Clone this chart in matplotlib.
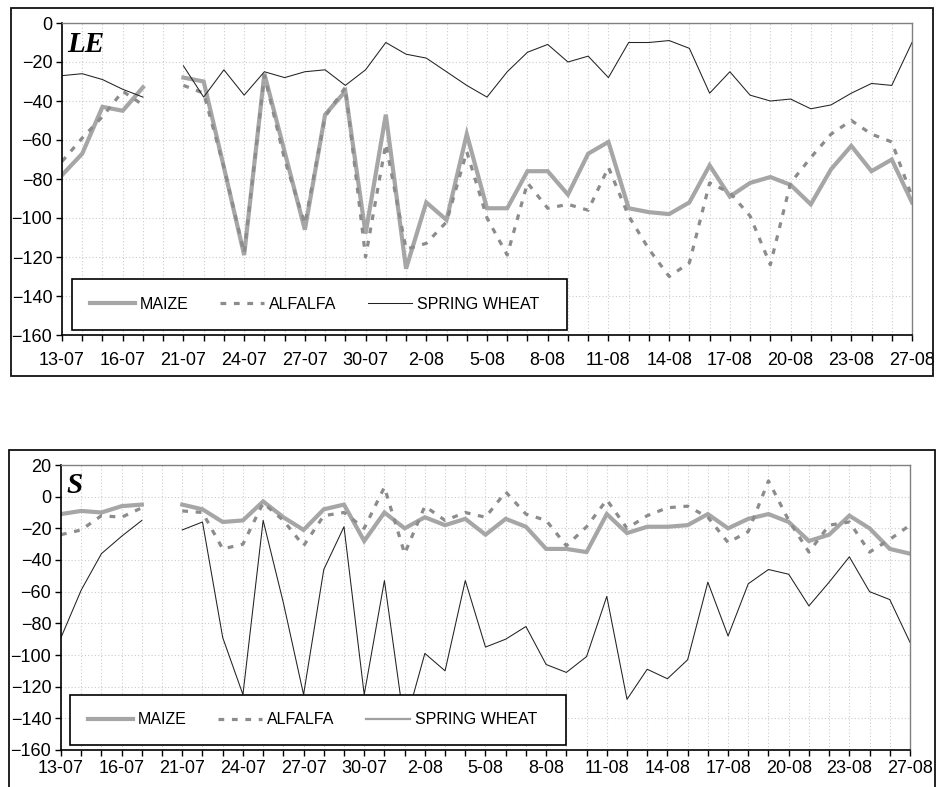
import numpy as np
import matplotlib
matplotlib.use("Agg")
import matplotlib.pyplot as plt
from matplotlib.lines import Line2D
from matplotlib.patches import Rectangle

nan = np.nan

# category axis (one point per day, some days missing)
DATES = ["13-07", "14-07", "15-07", "16-07", "17-07", "19-07", "21-07", "22-07", "23-07",
         "24-07", "25-07", "26-07", "27-07", "28-07", "29-07", "30-07", "31-07", "1-08",
         "2-08", "3-08", "4-08", "5-08", "6-08", "7-08", "8-08", "9-08", "10-08", "11-08",
         "12-08", "13-08", "14-08", "15-08", "16-08", "17-08", "18-08", "19-08", "20-08",
         "21-08", "22-08", "23-08", "24-08", "25-08", "27-08"]

LE_MAIZE = [-78, -67, -43, -45, -33, nan, -28, -30, -74, -119, -26, -66, -106, -47, -35,
            -108, -47, -126, -92, -101, -57, -95, -95, -76, -76, -88, -67, -61, -95, -97,
            -98, -92, -73, -89, -82, -79, -83, -93, -75, -63, -76, -70, -92]
LE_ALFALFA = [-71, -59, -48, -35, -42, nan, -32, -36, -74, -118, -27, -70, -103, -48, -33,
              -120, -62, -116, -113, -102, -66, -100, -119, -82, -95, -93, -96, -74, -99,
              -116, -130, -123, -82, -87, -99, -124, -82, -69, -57, -50, -57, -61, -89]
LE_WHEAT = [-27, -26, -29, -34, -38, nan, -22, -38, -24, -37, -25, -28, -25, -24, -32, -24,
            -10, -16, -18, -25, -32, -38, -25, -15, -11, -20, -17, -28, -10, -10, -9, -13,
            -36, -25, -37, -40, -39, -44, -42, -36, -31, -32, -10]

S_MAIZE = [-11, -9, -10, -6, -5, nan, -5, -8, -16, -15, -3, -13, -21, -8, -5, -28, -10, -20,
           -13, -18, -14, -24, -14, -19, -33, -33, -35, -11, -23, -19, -19, -18, -11, -20,
           -14, -11, -16, -28, -24, -12, -20, -33, -36]
S_ALFALFA = [-24, -21, -12, -13, -7, nan, -9, -10, -33, -30, -4, -15, -31, -12, -10, -20, 6,
             -36, -6, -15, -10, -13, 3, -11, -15, -31, -19, -2, -20, -12, -7, -6, -13, -29,
             -22, 10, -15, -35, -18, -16, -35, -27, -18]
S_WHEAT = [-89, -59, -36, -25, -15, nan, -21, -16, -89, -125, -15, -67, -125, -46, -19, -125,
           -53, -145, -99, -110, -53, -95, -90, -82, -106, -111, -101, -63, -128, -109, -115,
           -103, -54, -88, -55, -46, -49, -69, -54, -38, -60, -65, -92]

SERIES = ["MAIZE", "ALFALFA", "SPRING WHEAT"]

W, H = 939, 787
C_MAIZE = "#a6a6a6"
C_ALFA = "#8c8c8c"
C_WHEAT = "#222222"

plt.rcParams["font.family"] = ["Liberation Sans", "DejaVu Sans"]

fig = plt.figure(figsize=(W / 100, H / 100), dpi=100)


def px_axes(l, t, r, b):
    return fig.add_axes([l / W, 1 - b / H, (r - l) / W, (b - t) / H])


def frame(l, t, r, b):
    fig.patches.append(Rectangle((l / W, 1 - b / H), (r - l) / W, (b - t) / H,
                                 transform=fig.transFigure, fill=False,
                                 edgecolor="#111111", lw=1.3))


def panel(ax, maize, alfa, wheat, ymin, ymax, tag, box, wheat_legend_grey, xpad):
    x = np.arange(len(DATES))
    l1, = ax.plot(x, maize, color=C_MAIZE, lw=3.0, solid_joinstyle="miter", zorder=2)
    l2, = ax.plot(x, alfa, color=C_ALFA, lw=2.3, dashes=(1.8, 2.4), zorder=2.1)
    l3, = ax.plot(x, wheat, color=C_WHEAT, lw=0.75, zorder=2.2)

    ax.set_xlim(0, len(DATES) - 1)
    ax.set_ylim(ymin, ymax)
    ax.set_xticks(x)
    ax.set_xticklabels([d if i % 3 == 0 else "" for i, d in enumerate(DATES)])
    ax.set_yticks(np.arange(ymin, ymax + 1, 20))
    ax.tick_params(axis="both", direction="out", length=4, width=1, labelsize=13,
                   colors="black")
    ax.tick_params(axis="x", pad=xpad)
    ax.tick_params(axis="y", pad=3)
    ax.grid(True, color="#cccccc", lw=0.8, ls=(0, (1, 2)))
    ax.set_axisbelow(True)
    for s in ["left", "bottom"]:
        ax.spines[s].set_color("black")
        ax.spines[s].set_linewidth(1.2)
    for s in ["top", "right"]:
        ax.spines[s].set_color("#808080")
        ax.spines[s].set_linewidth(1.0)

    ax.text(0.006, 0.975, tag, transform=ax.transAxes, ha="left", va="top",
            fontsize=21, fontweight="bold", fontstyle="italic",
            family="Liberation Serif", zorder=6)

    # legend box (white, hides lines behind it)
    bl, bt, br, bb = box
    pos = ax.get_position()
    ax_l, ax_r = pos.x0 * W, pos.x1 * W
    ax_t, ax_b = (1 - pos.y1) * H, (1 - pos.y0) * H
    fx = lambda v: (v - ax_l) / (ax_r - ax_l)
    fy = lambda v: (ax_b - v) / (ax_b - ax_t)
    ax.add_patch(Rectangle((fx(bl), fy(bb)), fx(br) - fx(bl), fy(bt) - fy(bb),
                           transform=ax.transAxes, facecolor="white",
                           edgecolor="black", lw=1.2, zorder=4, clip_on=False))
    if wheat_legend_grey:
        h3 = Line2D([], [], color="#a0a0a0", lw=1.6)
    else:
        h3 = l3
    ax.legend([l1, l2, h3], SERIES, loc="center left",
              bbox_to_anchor=(fx(bl + 18), fy((bt + bb) / 2)), frameon=False, ncol=3,
              fontsize=11.5, handlelength=2.8, handletextpad=0.3, columnspacing=1.95,
              borderpad=0, borderaxespad=0).set_zorder(5)


frame(11, 8, 933, 376)
frame(9, 450, 935, 792)

ax1 = px_axes(62, 23, 912, 335)
panel(ax1, LE_MAIZE, LE_ALFALFA, LE_WHEAT, -160, 0, "LE", (72, 279, 567, 330), False, 8.5)

ax2 = px_axes(61, 465, 910, 750)
panel(ax2, S_MAIZE, S_ALFALFA, S_WHEAT, -160, 20, "S", (70, 695, 566, 745), True, 3.5)

fig.savefig("out.png", dpi=100)
